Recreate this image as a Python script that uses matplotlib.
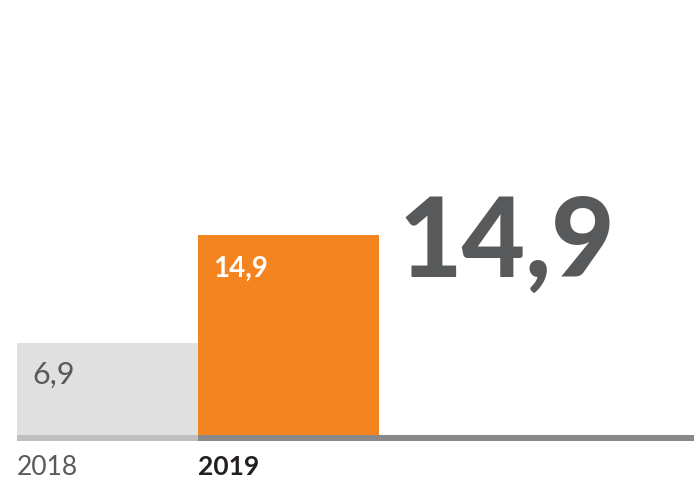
import matplotlib
matplotlib.use("Agg")
import matplotlib.pyplot as plt

# Data
years = ['2018', '2019']
values = [6.9, 14.9]
labels = ['6,9', '14,9']
highlight = '14,9'

bar_colors = ['#e0e0e0', '#f4841f']
text_dark = '#58595b'

plt.rcParams['font.family'] = ['Lato', 'DejaVu Sans']

fig = plt.figure(figsize=(6.94, 4.8), dpi=100)
ax = fig.add_axes([0, 0, 1, 1])

px = 181.0      # one category in pixels
scale = 13.4    # pixels per unit
x = list(range(len(years)))
ax.bar(x, values, width=1.0, color=bar_colors, align='center', zorder=2)

# baseline
base_h = 6 / scale
ax.fill_between([-0.5, 0.5], -base_h, 0, color='#bfbfbf', lw=0, zorder=3)
ax.fill_between([0.5, 10], -base_h, 0, color='#898989', lw=0, zorder=3)

# value labels in bars
ax.text(x[0] - 0.415, values[0] - 3.1, labels[0], fontsize=22, color=text_dark,
        va='baseline', ha='left')
ax.text(x[1] - 0.415, values[1] - 3.1, labels[1], fontsize=20, color='white',
        fontweight='bold', va='baseline', ha='left')

# year labels
ax.text(x[0] - 0.5, -3.0, years[0], fontsize=19, color=text_dark, va='baseline', ha='left')
ax.text(x[1] - 0.5, -3.0, years[1], fontsize=19, color='#231f20', fontweight='bold',
        va='baseline', ha='left')

# big figure
ax.text(1.61, 11.8, highlight, fontsize=79, color=text_dark, fontweight='black',
        va='baseline', ha='left')

ax.set_xlim(-0.5 - 17 / px, -0.5 + (694 - 17) / px)
ax.set_ylim(-45 / scale, 435 / scale)
ax.axis('off')

fig.savefig('out.png', dpi=100)
